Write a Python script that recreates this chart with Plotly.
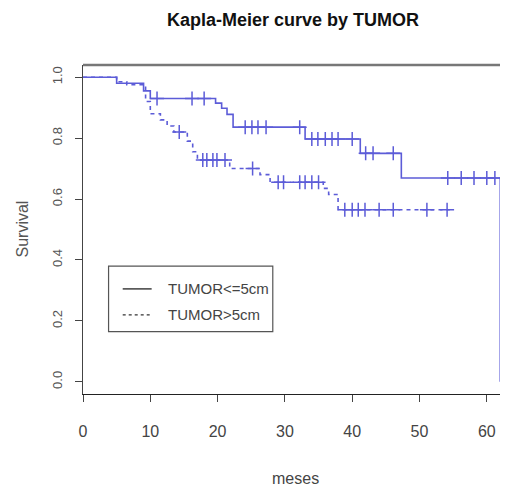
import numpy as np
import plotly.graph_objects as go

# Kaplan-Meier steps (months, survival)
times_small = [0, 5, 9, 10, 19.7, 20.6, 21.4, 22.3, 33.0, 41.2, 47.3, 62.0]
surv_small = [1.0, 0.98, 0.955, 0.93, 0.915, 0.898, 0.878, 0.836, 0.797, 0.75, 0.669, 0.0]
censor_small = [11.0, 16.2, 18.0, 24.1, 25.1, 26.0, 27.2, 32.2, 34.0, 34.9, 36.0, 37.0,
                37.9, 40.0, 42.0, 43.1, 46.1, 54.2, 56.2, 58.1, 60.0, 61.2]

times_big = [0, 5, 6.5, 9.3, 10.0, 11.5, 12.5, 13.5, 15.5, 16.3, 17.0, 21.8, 26.3, 27.8,
             35.7, 36.5, 37.9, 54.5]
surv_big = [1.0, 0.985, 0.975, 0.92, 0.88, 0.86, 0.84, 0.82, 0.79, 0.755, 0.728, 0.70,
            0.68, 0.655, 0.635, 0.615, 0.565, 0.565]
censor_big = [14.3, 17.8, 18.4, 19.3, 19.9, 21.1, 25.2, 29.0, 29.8, 32.2, 33.0, 34.0, 35.0,
              38.9, 40.0, 40.9, 41.9, 44.0, 46.1, 51.1, 54.1]

x_ticks = [0, 10, 20, 30, 40, 50, 60]
y_ticks = [0.0, 0.2, 0.4, 0.6, 0.8, 1.0]
y_tick_text = ["0.0", "0.2", "0.4", "0.6", "0.8", "1.0"]

BLUE = "#5c5cd8"
FONT = "Liberation Sans, Arial, sans-serif"


def step_value(times, surv, t):
    """Survival level at time t for a right-continuous step curve."""
    idx = np.searchsorted(times, t, side="right") - 1
    return np.asarray(surv)[idx]


fig = go.Figure()

for times, surv, cens, dash in [
    (times_small, surv_small, censor_small, "solid"),
    (times_big, surv_big, censor_big, "4px,4px"),
]:
    fig.add_trace(go.Scatter(
        x=times, y=surv, mode="lines", line_shape="hv",
        line=dict(color=BLUE, width=1.6, dash=dash), showlegend=False,
    ))
    fig.add_trace(go.Scatter(
        x=cens, y=step_value(times, surv, cens), mode="markers",
        marker=dict(symbol="cross-thin-open", size=10, color=BLUE,
                    line=dict(color=BLUE, width=1.5)),
        showlegend=False,
    ))

# the page body adds an 8px offset, so margins are trimmed by 8px on the left/top
fig.update_layout(
    width=508, height=488,
    margin=dict(l=75, r=8, t=57, b=102),
    plot_bgcolor="white", paper_bgcolor="white",
    title=dict(text="<b>Kapla-Meier curve by TUMOR</b>", x=285 / 508, xanchor="center",
               y=1 - 12 / 488, yanchor="middle",
               font=dict(family=FONT, size=18, color="#111")),
)
fig.update_xaxes(
    range=[0, 63.15], tickvals=x_ticks, showgrid=False, zeroline=False, automargin=False,
    showline=True, linecolor="#222", linewidth=1.2,
    ticks="outside", ticklen=7, tickcolor="#444", ticklabelstandoff=16,
    tickfont=dict(family=FONT, size=16, color="#444"),
)
fig.update_yaxes(
    range=[-0.04, 1.04], tickvals=y_ticks, ticktext=y_tick_text, showgrid=False,
    zeroline=False, automargin=False, showline=True, linecolor="#444", linewidth=1.2,
    ticks="outside", ticklen=7, tickcolor="#444", tickangle=-90, ticklabelstandoff=8,
    tickfont=dict(family=FONT, size=13, color="#555"),
)

# top frame line (grey, thicker)
fig.add_shape(type="line", xref="paper", yref="paper", x0=0, x1=1, y0=1, y1=1,
              line=dict(color="#777", width=2.5))

# axis titles
fig.add_annotation(text="meses", xref="paper", yref="paper", x=0.5, y=0, yshift=-84,
                   yanchor="middle", showarrow=False,
                   font=dict(family=FONT, size=16, color="#444"))
fig.add_annotation(text="Survival", xref="paper", yref="paper", x=0, xshift=-61, y=0.5,
                   textangle=-90, xanchor="center", showarrow=False,
                   font=dict(family=FONT, size=16, color="#555"))

# legend drawn by hand (black line samples like R's legend)
fig.add_shape(type="rect", xref="x", yref="y", x0=3.8, x1=28.2, y0=0.165, y1=0.38,
              line=dict(color="#555", width=1.2))
fig.add_shape(type="line", xref="x", yref="y", x0=5.9, x1=10.2, y0=0.305, y1=0.305,
              line=dict(color="#333", width=1.4))
fig.add_shape(type="line", xref="x", yref="y", x0=5.9, x1=10.2, y0=0.22, y1=0.22,
              line=dict(color="#333", width=1.2, dash="3px,3px"))
for label, yy in [("TUMOR<=5cm", 0.305), ("TUMOR>5cm", 0.22)]:
    fig.add_annotation(text=label, x=12.4, y=yy, xanchor="left", yanchor="middle",
                       showarrow=False, font=dict(family=FONT, size=15, color="#444"))

fig.write_html("out.html")
